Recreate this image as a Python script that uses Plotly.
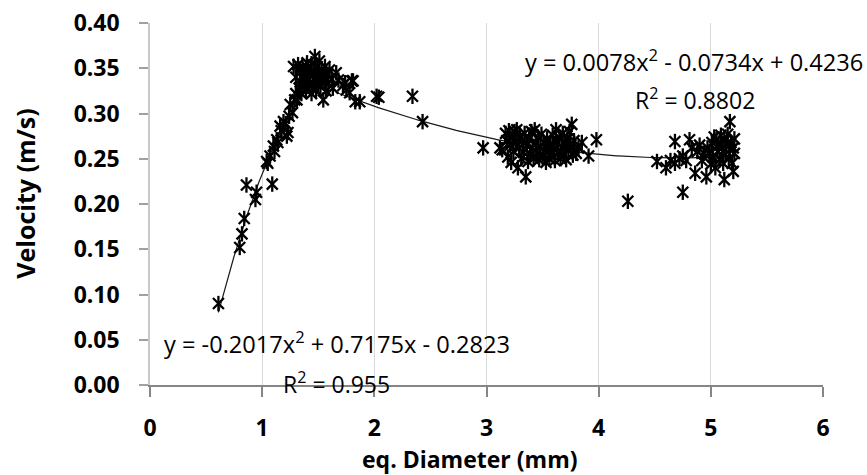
import numpy as np
import plotly.graph_objects as go

# Series 1 (rising branch)
x1 = [0.61, 0.80, 0.82, 0.84, 0.86, 0.94, 0.95, 1.04, 1.05, 1.07, 1.09, 1.10, 1.11, 1.13, 1.14,
      1.16, 1.17, 1.19, 1.21, 1.22, 1.23, 1.24, 1.25, 1.27, 1.28, 1.29, 1.30, 1.31, 1.32, 1.33,
      1.34, 1.35, 1.36, 1.37, 1.38, 1.39, 1.40, 1.41, 1.42, 1.43, 1.44, 1.45, 1.46, 1.47, 1.48,
      1.49, 1.50, 1.51, 1.52, 1.53, 1.54, 1.545, 1.56, 1.57, 1.58, 1.59, 1.60, 1.62, 1.63,
      1.30, 1.34, 1.38, 1.42, 1.46, 1.50, 1.54, 1.36, 1.44, 1.52, 1.40, 1.48, 1.56]
y1 = [0.090, 0.152, 0.167, 0.184, 0.221, 0.205, 0.213, 0.247, 0.245, 0.253, 0.222, 0.264, 0.258, 0.271, 0.268,
      0.286, 0.281, 0.291, 0.289, 0.275, 0.279, 0.297, 0.310, 0.301, 0.352, 0.315, 0.322, 0.315, 0.354, 0.328,
      0.335, 0.322, 0.340, 0.330, 0.345, 0.326, 0.338, 0.350, 0.332, 0.342, 0.355, 0.328, 0.346, 0.363, 0.336,
      0.352, 0.341, 0.358, 0.330, 0.348, 0.338, 0.315, 0.352, 0.325, 0.343, 0.333, 0.348, 0.338, 0.328,
      0.340, 0.347, 0.335, 0.344, 0.338, 0.332, 0.343, 0.352, 0.322, 0.340, 0.356, 0.326, 0.336]

# Series 2 (falling branch)
x2 = [1.66, 1.68, 1.72, 1.74, 1.75, 1.78, 1.80, 1.81, 1.83, 1.87, 2.02, 2.04, 2.34, 2.43, 2.97,
      3.12, 3.14, 3.17, 3.18, 3.19, 3.20, 3.21, 3.22, 3.23, 3.24, 3.25, 3.26, 3.27, 3.28, 3.29,
      3.30, 3.31, 3.32, 3.33, 3.34, 3.35, 3.36, 3.37, 3.38, 3.39, 3.40, 3.41, 3.42, 3.43, 3.44,
      3.45, 3.46, 3.47, 3.48, 3.49, 3.50, 3.51, 3.52, 3.53, 3.54, 3.55, 3.56, 3.57, 3.58, 3.59,
      3.60, 3.61, 3.62, 3.63, 3.64, 3.65, 3.66, 3.67, 3.68, 3.69, 3.70, 3.71, 3.72, 3.73, 3.74,
      3.75, 3.76, 3.77, 3.78, 3.80, 3.82, 3.85, 3.91, 3.98, 4.26,
      4.52, 4.60, 4.64, 4.68, 4.68, 4.72, 4.75, 4.75, 4.78, 4.81, 4.83, 4.86, 4.88, 4.90, 4.92,
      4.94, 4.96, 4.97, 4.99, 5.00, 5.01, 5.02, 5.03, 5.04, 5.05, 5.06, 5.07, 5.08, 5.09, 5.10,
      5.11, 5.12, 5.12, 5.13, 5.14, 5.15, 5.16, 5.17, 5.17, 5.18, 5.19, 5.20, 5.20, 5.21, 5.21]
y2 = [0.345, 0.337, 0.331, 0.334, 0.326, 0.323, 0.336, 0.336, 0.313, 0.313, 0.319, 0.318, 0.319, 0.291, 0.262,
      0.262, 0.260, 0.278, 0.270, 0.252, 0.281, 0.265, 0.246, 0.274, 0.258, 0.280, 0.268, 0.282, 0.240, 0.262,
      0.275, 0.250, 0.270, 0.257, 0.278, 0.230, 0.265, 0.247, 0.272, 0.255, 0.280, 0.262, 0.250, 0.282, 0.268,
      0.256, 0.274, 0.249, 0.263, 0.277, 0.252, 0.268, 0.259, 0.246, 0.272, 0.262, 0.250, 0.266, 0.255, 0.276,
      0.261, 0.248, 0.282, 0.268, 0.256, 0.273, 0.250, 0.262, 0.278, 0.255, 0.266, 0.249, 0.272, 0.260, 0.280,
      0.265, 0.288, 0.254, 0.270, 0.256, 0.262, 0.268, 0.253, 0.271, 0.203,
      0.247, 0.240, 0.248, 0.269, 0.245, 0.250, 0.253, 0.213, 0.248, 0.271, 0.262, 0.234, 0.258, 0.265, 0.248,
      0.256, 0.230, 0.262, 0.256, 0.244, 0.268, 0.252, 0.274, 0.240, 0.271, 0.258, 0.265, 0.249, 0.276, 0.262,
      0.245, 0.227, 0.270, 0.255, 0.266, 0.277, 0.250, 0.291, 0.260, 0.268, 0.245, 0.236, 0.262, 0.256, 0.272]

# Trendline coefficients (a x^2 + b x + c) as printed on the chart
coef1 = [-0.2017, 0.7175, -0.2823]
coef2 = [0.0078, -0.0734, 0.4236]
eq1_text = "y = -0.2017x<sup>2</sup> + 0.7175x - 0.2823"
r2_1_text = "R<sup>2</sup> = 0.955"
eq2_text = "y = 0.0078x<sup>2</sup> - 0.0734x + 0.4236"
r2_2_text = "R<sup>2</sup> = 0.8802"

x_ticks = [0, 1, 2, 3, 4, 5, 6]
y_ticks = [0.00, 0.05, 0.10, 0.15, 0.20, 0.25, 0.30, 0.35, 0.40]

FONT = "Open Sans"

fig = go.Figure()

def trend(xs, coef):
    xx = np.linspace(min(xs), max(xs), 200)
    return xx, np.polyval(coef, xx)

for xs, coef in ((x1, coef1), (x2, coef2)):
    tx, ty = trend(xs, coef)
    fig.add_trace(go.Scatter(x=tx, y=ty, mode="lines",
                             line=dict(color="#1a1a1a", width=1.2),
                             showlegend=False, hoverinfo="skip"))

for xs, ys in ((x1, y1), (x2, y2)):
    for sym in ("x-thin-open", "line-ns-open"):
        fig.add_trace(go.Scatter(x=xs, y=ys, mode="markers",
                                 marker=dict(symbol=sym, size=11, color="black",
                                             line=dict(color="black", width=2.3)),
                                 showlegend=False))

fig.update_layout(
    width=867, height=475,
    margin=dict(l=150, r=44, t=23, b=90, autoexpand=False),
    paper_bgcolor="white", plot_bgcolor="white",
    font=dict(family=FONT, color="black"),
    showlegend=False,
)
fig.update_xaxes(range=[0, 6], tickvals=x_ticks, ticktext=[str(v) for v in x_ticks],
                 showgrid=True, gridcolor="#d9d9d9", gridwidth=1,
                 showline=True, linecolor="#868686", linewidth=1.5,
                 ticks="outside", ticklen=10, tickcolor="#868686", tickwidth=1.5,
                 tickfont=dict(family=FONT, size=23, color="black", weight="bold"),
                 zeroline=False, ticklabelstandoff=12, ticklabeloverflow="allow")
fig.update_yaxes(range=[0, 0.4], tickvals=y_ticks, ticktext=[f"{v:.2f}" for v in y_ticks],
                 showgrid=False,
                 showline=True, linecolor="#c8c8c8", linewidth=1.5,
                 ticks="outside", ticklen=9, tickcolor="#a0a0a0", tickwidth=1.5,
                 tickfont=dict(family=FONT, size=23, color="black", weight="bold"),
                 zeroline=False, ticklabelstandoff=15, ticklabeloverflow="allow")

ann_font = dict(family=FONT, size=23.6, color="black")
fig.add_annotation(x=1.671, y=0.0465, xref="x", yref="y", text=eq1_text, showarrow=False,
                   font=ann_font, xanchor="center", yanchor="middle")
fig.add_annotation(x=1.667, y=0.0022, xref="x", yref="y", text=r2_1_text, showarrow=False,
                   font=dict(family=FONT, size=23, color="black"), xanchor="center", yanchor="middle")
fig.add_annotation(x=4.848, y=0.3584, xref="x", yref="y", text=eq2_text, showarrow=False,
                   font=ann_font, xanchor="center", yanchor="middle")
fig.add_annotation(x=4.857, y=0.3164, xref="x", yref="y", text=r2_2_text, showarrow=False,
                   font=dict(family=FONT, size=23, color="black"), xanchor="center", yanchor="middle")

fig.add_annotation(x=2.85, y=-0.205, xref="x", yref="paper", text="eq. Diameter (mm)",
                   showarrow=False, font=dict(family=FONT, size=23, color="black", weight="bold"),
                   xanchor="center", yanchor="middle")
fig.add_annotation(x=-0.187, y=0.529, xref="paper", yref="paper", text="Velocity (m/s)",
                   showarrow=False, textangle=-90,
                   font=dict(family=FONT, size=25, color="black", weight="bold"),
                   xanchor="center", yanchor="middle")

# remove the default 8px page margin so the figure fills the 867x475 window exactly
fig.write_html("out.html", config={"displayModeBar": False},
               post_script="document.body.style.margin='0';")
